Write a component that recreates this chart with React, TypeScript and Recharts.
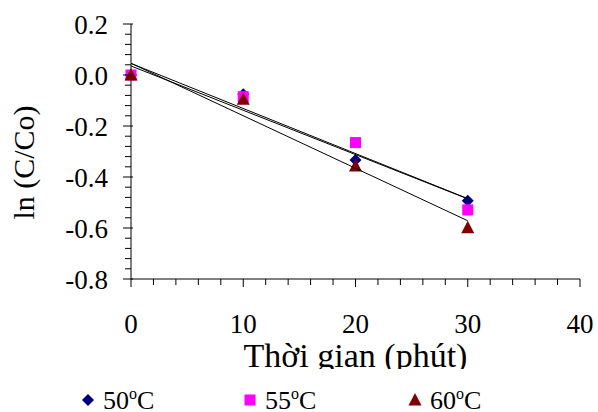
import { Legend, Scatter, ScatterChart, XAxis, YAxis } from "recharts";

const times = [0, 10, 20, 30];
const lnC50 = [0, -0.075, -0.333, -0.493];
const lnC55 = [0, -0.085, -0.265, -0.529];
const lnC60 = [0, -0.095, -0.357, -0.599];
const seriesNames = ["50", "55", "60"];
const seriesColors = ["#000080", "#FF00FF", "#800000"];

const xMajor = [0, 10, 20, 30, 40];
const yMajor = [-0.8, -0.6, -0.4, -0.2, 0, 0.2];
// minor tick marks: every 2 min on x, every 0.04 on y
const xTicks = Array.from({ length: 21 }, (_, i) => i * 2);
const yTicks = Array.from({ length: 26 }, (_, i) => Math.round((-0.8 + i * 0.04) * 100) / 100);

const FONT = "'Liberation Serif', 'Times New Roman', serif";
const txt = { fontFamily: FONT };

const toPoints = (ys: number[]) => times.map((t, i) => ({ x: t, y: ys[i] }));

// least-squares trendline, drawn over the measured range like Excel does
function trend(ys: number[]) {
  const n = times.length;
  const mx = times.reduce((a, b) => a + b, 0) / n;
  const my = ys.reduce((a, b) => a + b, 0) / n;
  let sxy = 0;
  let sxx = 0;
  times.forEach((t, i) => {
    sxy += (t - mx) * (ys[i] - my);
    sxx += (t - mx) * (t - mx);
  });
  const slope = sxy / sxx;
  const icpt = my - slope * mx;
  const x0 = times[0];
  const x1 = times[n - 1];
  return [
    { x: x0, y: icpt + slope * x0 },
    { x: x1, y: icpt + slope * x1 },
  ];
}

const allSeries = [lnC50, lnC55, lnC60];

function Marker({ kind, cx, cy, color }: { kind: number; cx: number; cy: number; color: string }) {
  if (kind === 0) {
    const r = 6;
    return (
      <polygon
        points={`${cx},${cy - r} ${cx + r},${cy} ${cx},${cy + r} ${cx - r},${cy}`}
        fill={color}
      />
    );
  }
  if (kind === 1) {
    return <rect x={cx - 5.5} y={cy - 5.5} width={11} height={11} fill={color} />;
  }
  return (
    <polygon
      points={`${cx},${cy - 7} ${cx + 6.5},${cy + 5.5} ${cx - 6.5},${cy + 5.5}`}
      fill={color}
    />
  );
}

function XTick(props: any) {
  const { x, y, payload } = props;
  const v = payload.value as number;
  const major = xMajor.includes(v);
  return (
    <g>
      <line x1={x} x2={x} y1={y} y2={y + (major ? 8 : 6)} stroke="#000" />
      {major && (
        <text x={x} y={y + 54} textAnchor="middle" style={txt} fontSize={27} fill="#000">
          {String(v)}
        </text>
      )}
    </g>
  );
}

function YTick(props: any) {
  const { x, y, payload } = props;
  const v = payload.value as number;
  const major = yMajor.some((m) => Math.abs(m - v) < 1e-6);
  return (
    <g>
      <line x1={x - (major ? 8 : 6)} x2={x + (major ? 2 : 0)} y1={y} y2={y} stroke="#000" />
      {major && (
        <text x={x - 23} y={y + 10} textAnchor="end" style={txt} fontSize={27} fill="#000">
          {v.toFixed(1)}
        </text>
      )}
    </g>
  );
}

function XTitle(props: any) {
  const vb = props.viewBox;
  return (
    <text
      x={vb.x + vb.width / 2}
      y={vb.y + 88}
      textAnchor="middle"
      style={txt}
      fontSize={34}
      fill="#000"
    >
      Thời gian (phút)
    </text>
  );
}

function YTitle(props: any) {
  const vb = props.viewBox;
  const cx = 34;
  const cy = vb.y + vb.height / 2 + 11;
  return (
    <text
      x={cx}
      y={cy}
      transform={`rotate(-90, ${cx}, ${cy})`}
      textAnchor="middle"
      style={txt}
      fontSize={30}
      fill="#000"
    >
      ln (C/Co)
    </text>
  );
}

function LegendBox() {
  const itemX = [88, 250, 415];
  return (
    <svg width={598} height={43} style={{ display: "block", overflow: "visible" }}>
      {seriesNames.map((name, i) => (
        <g key={name}>
          <Marker kind={i} cx={itemX[i]} cy={31} color={seriesColors[i]} />
          <text x={itemX[i] + 15} y={40} style={txt} fontSize={26} fill="#000">
            {name}
            <tspan fontSize={16} dy={-10}>
              o
            </tspan>
            <tspan dy={10}>C</tspan>
          </text>
        </g>
      ))}
    </svg>
  );
}

export default function App() {
  return (
    <div style={{ position: "absolute", left: 0, top: 0, background: "#fff", fontFamily: FONT }}>
      <ScatterChart width={598} height={412} margin={{ top: 24, right: 18, bottom: 0, left: 0 }}>
        <XAxis
          type="number"
          dataKey="x"
          domain={[0, 40]}
          ticks={xTicks}
          interval={0}
          height={133}
          tickSize={0}
          tickMargin={0}
          tickLine={false}
          axisLine={{ stroke: "#000" }}
          tick={<XTick />}
          label={<XTitle />}
        />
        <YAxis
          type="number"
          dataKey="y"
          domain={[-0.8, 0.2]}
          ticks={yTicks}
          interval={0}
          width={131}
          tickSize={0}
          tickMargin={0}
          tickLine={false}
          axisLine={{ stroke: "#000" }}
          tick={<YTick />}
          label={<YTitle />}
        />
        {allSeries.map((ys, i) => (
          <Scatter
            key={`pts-${i}`}
            name={seriesNames[i]}
            data={toPoints(ys)}
            isAnimationActive={false}
            shape={(p: any) => <Marker kind={i} cx={p.cx} cy={p.cy} color={seriesColors[i]} />}
          />
        ))}
        {allSeries.map((ys, i) => (
          <Scatter
            key={`fit-${i}`}
            data={trend(ys)}
            line={{ stroke: "#000", strokeWidth: 1 }}
            shape={() => <g />}
            legendType="none"
            isAnimationActive={false}
          />
        ))}
        <Legend
          layout="horizontal"
          verticalAlign="middle"
          align="center"
          content={<LegendBox />}
          wrapperStyle={{ top: 369, left: 0, width: 598, height: 43, background: "#fff" }}
        />
      </ScatterChart>
    </div>
  );
}
